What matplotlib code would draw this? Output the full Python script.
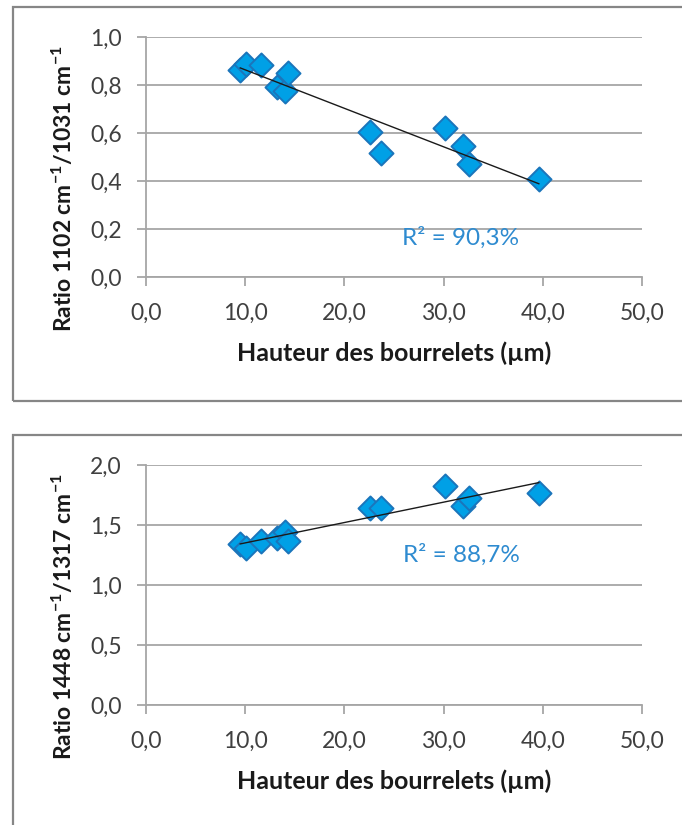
import numpy as np
import matplotlib
matplotlib.use("Agg")
import matplotlib.pyplot as plt
from matplotlib.patches import Rectangle

# ---- data ----
hauteur = [9.5, 10.05, 11.6, 13.25, 14.05, 14.3, 22.55, 23.7, 30.15, 32.0, 32.6, 39.6]
ratio_1102_1031 = [0.862, 0.887, 0.883, 0.793, 0.776, 0.852, 0.606, 0.518, 0.622, 0.544, 0.469, 0.408]
ratio_1448_1317 = [1.342, 1.31, 1.37, 1.39, 1.44, 1.365, 1.64, 1.64, 1.825, 1.655, 1.727, 1.77]

x_ticks = [0, 10, 20, 30, 40, 50]
x_tick_labels = ["0,0", "10,0", "20,0", "30,0", "40,0", "50,0"]
y1_ticks = [0.0, 0.2, 0.4, 0.6, 0.8, 1.0]
y1_tick_labels = ["0,0", "0,2", "0,4", "0,6", "0,8", "1,0"]
y2_ticks = [0.0, 0.5, 1.0, 1.5, 2.0]
y2_tick_labels = ["0,0", "0,5", "1,0", "1,5", "2,0"]
r2_labels = ["R² = 90,3%", "R² = 88,7%"]
x_label = "Hauteur des bourrelets (µm)"
y_labels = [r"Ratio 1102 cm$^{-1}$/1031 cm$^{-1}$", r"Ratio 1448 cm$^{-1}$/1317 cm$^{-1}$"]

plt.rcParams["font.family"] = ["Lato", "DejaVu Sans"]
plt.rcParams["mathtext.fontset"] = "custom"
plt.rcParams["mathtext.rm"] = "Lato"
plt.rcParams["mathtext.bf"] = "Lato:bold"
plt.rcParams["mathtext.it"] = "Lato:italic"
plt.rcParams["mathtext.default"] = "bf"

W, H = 682, 825
fig = plt.figure(figsize=(W / 100, H / 100), dpi=100)

# chart-area frames
frame_col = "#868686"
fig.patches.append(Rectangle((13 / W, 1 - 401 / H), 700 / W, 394 / H, transform=fig.transFigure,
                             fill=False, edgecolor=frame_col, linewidth=1.6))
fig.patches.append(Rectangle((13 / W, -0.05), 700 / W, (1 - 435 / H) + 0.05, transform=fig.transFigure,
                             fill=False, edgecolor=frame_col, linewidth=1.6))

grid_col = "#A6A6A6"
fill_col = "#00A0E6"
edge_col = "#1B75BB"
text_col = "#2E8BD0"
tick_text_col = "#404040"

specs = [
    dict(rect=(146 / W, 1 - 277 / H, 496 / W, 240 / H), y=ratio_1102_1031, yt=y1_ticks, ytl=y1_tick_labels,
         ylim=(0, 1.0), r2=r2_labels[0], r2pos=(31.75, 0.162), ylab=y_labels[0]),
    dict(rect=(146 / W, 1 - 705 / H, 496 / W, 240 / H), y=ratio_1448_1317, yt=y2_ticks, ytl=y2_tick_labels,
         ylim=(0, 2.0), r2=r2_labels[1], r2pos=(31.75, 1.25), ylab=y_labels[1]),
]

for s in specs:
    ax = fig.add_axes(s["rect"])
    ax.set_xlim(0, 50)
    ax.set_ylim(*s["ylim"])
    ax.set_xticks(x_ticks)
    ax.set_xticklabels(x_tick_labels)
    ax.set_yticks(s["yt"])
    ax.set_yticklabels(s["ytl"])
    ax.grid(axis="y", color=grid_col, linewidth=1.3)
    ax.set_axisbelow(True)
    for side in ["top", "right"]:
        ax.spines[side].set_visible(False)
    for side in ["left", "bottom"]:
        ax.spines[side].set_color(grid_col)
        ax.spines[side].set_linewidth(1.3)
    ax.tick_params(axis="both", direction="out", length=6.3, width=1.3, color=grid_col,
                   labelsize=16.5, labelcolor=tick_text_col)
    ax.tick_params(axis="x", pad=12)
    ax.tick_params(axis="y", pad=11)

    xs = np.array(hauteur)
    ys = np.array(s["y"])
    ax.scatter(xs, ys, marker="D", s=150, facecolor=fill_col, edgecolor=edge_col, linewidth=1.4, zorder=3)
    k, b = np.polyfit(xs, ys, 1)
    xl = np.array([xs.min(), xs.max()])
    ax.plot(xl, k * xl + b, color="#1a1a1a", linewidth=1.0, zorder=4)

    ax.text(s["r2pos"][0], s["r2pos"][1], s["r2"], color=text_col, fontsize=17.5,
            ha="center", va="center")
    ax.set_xlabel(x_label, fontsize=18, fontweight="bold", color="#1a1a1a")
    ax.xaxis.set_label_coords(0.5, -(341 - 277) / 240)
    ax.set_ylabel(s["ylab"], fontsize=16.5, fontweight="bold", color="#1a1a1a")
    ax.yaxis.set_label_coords(-(146 - 63) / 496, 0.367)
    ax.yaxis.label.set_va("center")
    ax.xaxis.label.set_va("top")

fig.savefig("out.png", dpi=100)
